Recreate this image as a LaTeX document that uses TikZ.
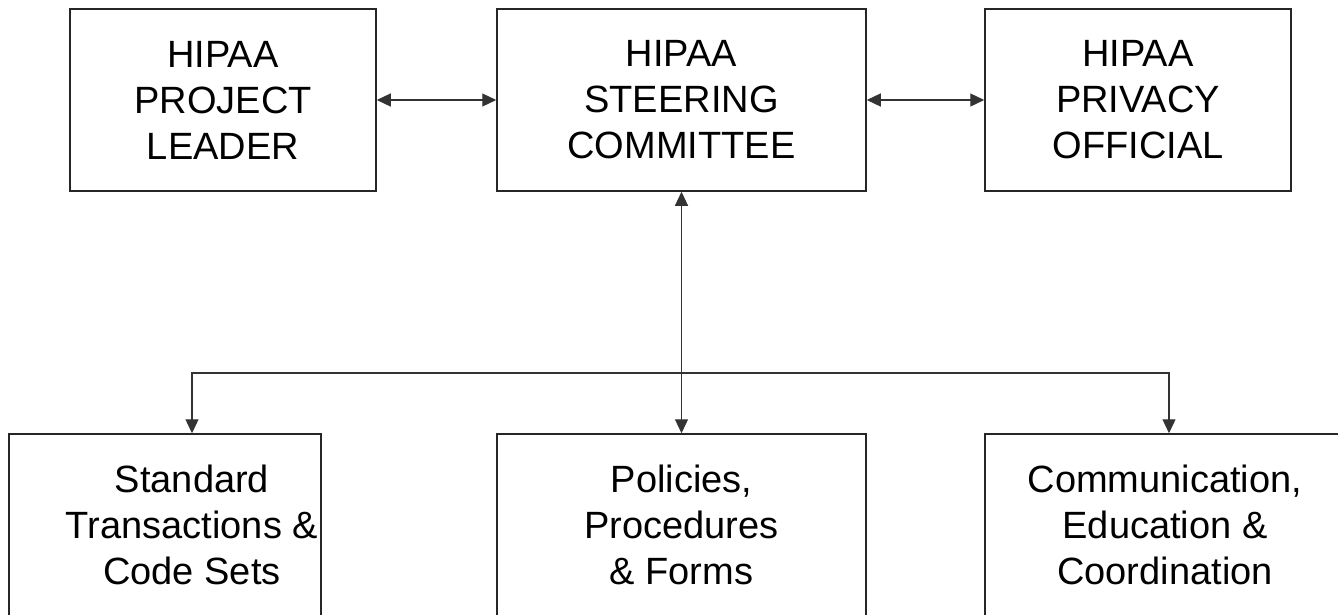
\documentclass[tikz,border=0pt]{standalone}
\usepackage{fontspec}
\setmainfont{Liberation Sans}
\usetikzlibrary{arrows.meta}

\begin{document}
\begin{tikzpicture}[x=1pt, y=-1pt, >={Triangle[length=14pt,width=13pt]},
    box/.style={draw=black!85, line width=1.5pt, minimum height=182pt, inner sep=0pt,
        align=center, font=\fontsize{38}{46}\selectfont},
    lbl/.style={align=center, font=\fontsize{38}{46}\selectfont},
    link/.style={draw=black!80, line width=1.2pt}]

    \useasboundingbox (0,0) rectangle (1338,614);

    % Top row
    \node[box, minimum width=306pt] (lead) at (223,100) {HIPAA\\PROJECT\\LEADER};
    \node[box, minimum width=369pt] (steer) at (681.5,100) {HIPAA\\STEERING\\COMMITTEE};
    \node[box, minimum width=306pt] (priv) at (1138,100) {HIPAA\\PRIVACY\\OFFICIAL};

    % Bottom row
    \node[box, minimum width=312pt] (std) at (165,525) {};
    \node[lbl] (stdtxt) at (192,525) {Standard\\Transactions \&\\Code Sets};
    \node[box, minimum width=369pt] (pol) at (681.5,525) {Policies,\\Procedures\\\& Forms};
    \node[box, minimum width=360pt] (comm) at (1165,525) {Communication,\\Education \&\\Coordination};

    % Branch points
    \coordinate (jn) at (681.5,373);
    \coordinate (hl) at (192,373);
    \coordinate (hr) at (1169,373);

    % Arrows
    \draw[link, <->] (lead) -- (steer);
    \draw[link, <->] (steer) -- (priv);
    \draw[link, <->] (steer) -- (pol);
    \draw[link, ->] (jn) -| (hl |- std.north);
    \draw[link, ->] (jn) -| (hr |- comm.north);

\end{tikzpicture}
\end{document}
